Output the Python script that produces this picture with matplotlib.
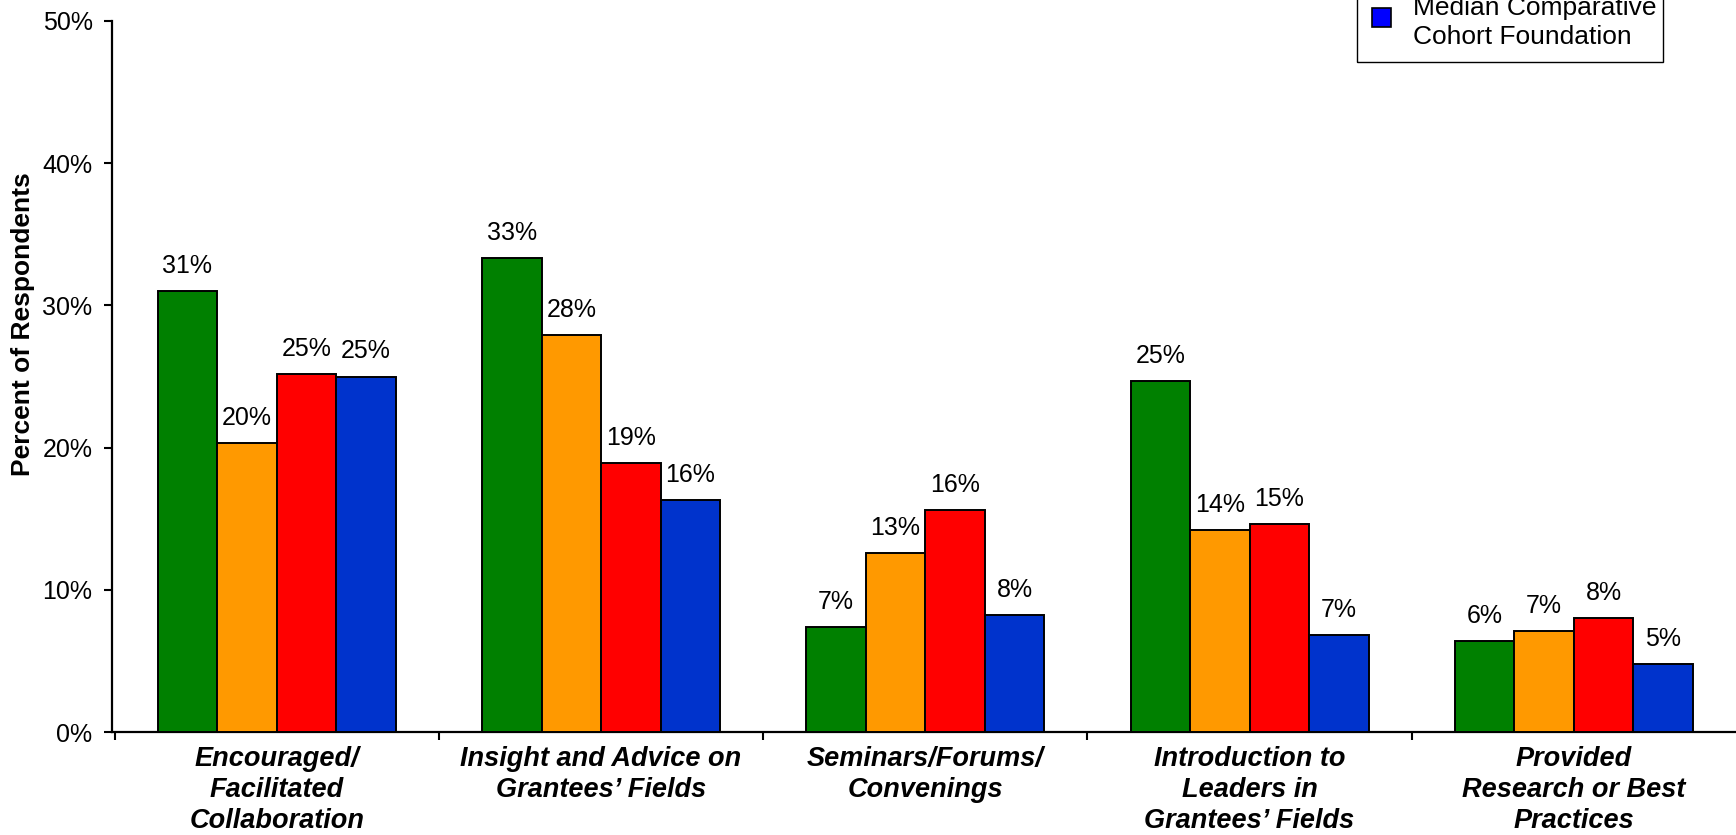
import matplotlib
matplotlib.use("Agg")
import matplotlib.pyplot as plt
from matplotlib.patches import Rectangle
import numpy as np

plt.rcParams['font.family'] = ['Liberation Sans', 'DejaVu Sans']

categories = [
    "Encouraged/\nFacilitated\nCollaboration",
    "Insight and Advice on\nGrantees\u2019 Fields",
    "Seminars/Forums/\nConvenings",
    "Introduction to\nLeaders in\nGrantees\u2019 Fields",
    "Provided\nResearch or Best\nPractices",
]
series_a = [31.0, 33.3, 7.4, 24.7, 6.4]
series_b = [20.3, 27.9, 12.6, 14.2, 7.1]
series_c = [25.2, 18.9, 15.6, 14.6, 8.0]
median_cohort = [25.0, 16.3, 8.2, 6.8, 4.8]
legend_label = "Median Comparative\nCohort Foundation"
yticks = [0, 10, 20, 30, 40, 50]

colors = ["#008000", "#FF9900", "#FF0000", "#0033CC"]

W, H = 1736, 835
fig = plt.figure(figsize=(W / 100, H / 100), dpi=100)
ax = fig.add_axes([112 / W, 1 - 732 / H, 1 - 112 / W, (732 - 21) / H])

x = np.arange(len(categories))
bw = 0.1835
all_series = [series_a, series_b, series_c, median_cohort]
for i, (vals, col) in enumerate(zip(all_series, colors)):
    pos = x + (i - 1.5) * bw
    bars = ax.bar(pos, vals, width=bw, color=col, edgecolor="black", linewidth=1.4, zorder=3)
    for b, v in zip(bars, vals):
        ax.annotate(f"{round(v)}%", (b.get_x() + b.get_width() / 2, v),
                    xytext=(0, 13), textcoords="offset pixels",
                    ha="center", va="bottom", fontsize=18, color="black")

ax.set_xlim(-0.508, 4.5)
ax.set_ylim(0, 50)
ax.set_yticks(yticks)
ax.set_yticklabels([f"{t}%" for t in yticks], fontsize=18)
ax.tick_params(axis="y", direction="out", length=6, width=1.5, pad=8)

# Boundary ticks between groups, category names at group centres
ax.set_xticks(np.arange(-0.5, 4.0, 1.0))
ax.set_xticklabels([])
ax.tick_params(axis="x", which="major", direction="out", length=6, width=1.5)
ax.set_xticks(x, minor=True)
ax.set_xticklabels(categories, minor=True, fontsize=19.5, fontweight="bold",
                   fontstyle="italic", linespacing=1.26)
ax.tick_params(axis="x", which="minor", length=0, pad=10)

ax.spines["top"].set_visible(False)
ax.spines["right"].set_visible(False)
ax.spines["left"].set_linewidth(1.6)
ax.spines["bottom"].set_linewidth(1.6)

fig.text(23 / W, 1 - 324 / H, "Percent of Respondents", rotation=90,
         ha="center", va="center", fontsize=19, fontweight="bold")

# Legend box (upper part runs off the top edge)
fig.add_artist(Rectangle((1357 / W, 1 - 62 / H), (1663 - 1357) / W, 120 / H,
                         transform=fig.transFigure, fill=False, edgecolor="black",
                         linewidth=1.0, clip_on=False))
fig.add_artist(Rectangle((1372 / W, 1 - 27 / H), 19 / W, 19 / H,
                         transform=fig.transFigure, facecolor="#0000FF",
                         edgecolor="black", linewidth=1.2))
fig.text(1413 / W, 1 - 49 / H, legend_label, ha="left", va="bottom",
         fontsize=19, linespacing=1.27)

fig.savefig("out.png", dpi=100)
